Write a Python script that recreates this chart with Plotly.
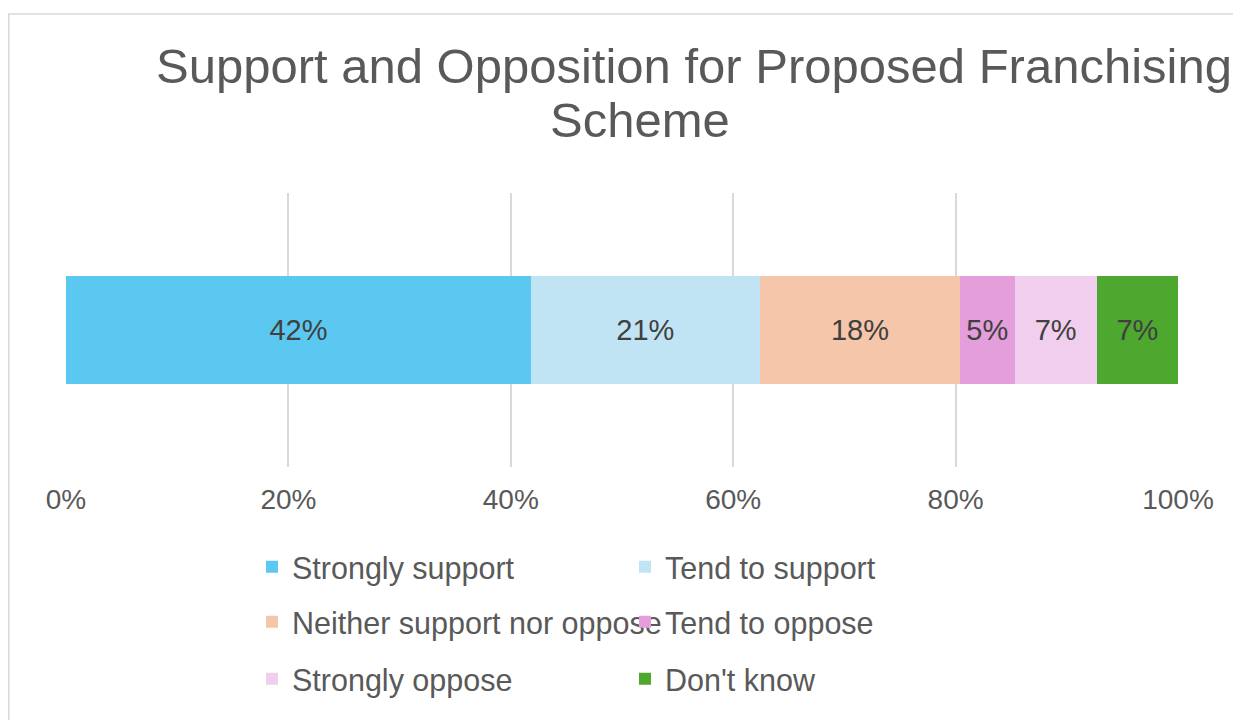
import plotly.graph_objects as go

# ---- data ----
categories = ["Strongly support", "Tend to support", "Neither support nor oppose",
              "Tend to oppose", "Strongly oppose", "Don't know"]
values = [41.8, 20.6, 18.0, 4.9, 7.4, 7.3]
colors = ["#5BC8F1", "#C0E4F4", "#F6C6AB", "#E39EDB", "#F1CEEE", "#4EA72E"]
tick_vals = [0, 20, 40, 60, 80, 100]
tick_text = ["0%", "20%", "40%", "60%", "80%", "100%"]
title_line1 = "Support and Opposition for Proposed Franchising"
title_line2 = "Scheme"

FONT = "Liberation Sans, Arial, Helvetica, sans-serif"
OFF = 8  # page body margin
W, H = 1241 - OFF, 720 - OFF
L = 66 - OFF
R = W - (1178 - OFF)
T = 193 - OFF
B = H - (467 - OFF)
PW, PH = W - L - R, H - T - B


def xpaper(xpage):
    return (xpage - OFF - L) / PW


def ypaper(ypage):
    return (H - B - (ypage - OFF)) / PH


legend_names = ["legend", "legend", "legend2", "legend2", "legend3", "legend3"]

fig = go.Figure()
for name, v, c, lg in zip(categories, values, colors, legend_names):
    fig.add_trace(go.Bar(
        y=["All"], x=[v], name=name, orientation="h",
        marker=dict(color=c, line=dict(width=0)),
        text=[f"{v:.0f}%"], textposition="inside", insidetextanchor="middle",
        textfont=dict(family=FONT, size=29, color="#404040"),
        legend=lg, hoverinfo="name+x",
    ))

leg_common = dict(orientation="h", xanchor="left", yanchor="middle",
                  entrywidth=328, entrywidthmode="pixels",
                  font=dict(family=FONT, size=30.5, color="#595959"),
                  bgcolor="rgba(0,0,0,0)", traceorder="normal")

fig.update_layout(
    width=W, height=H,
    margin=dict(l=L, r=R, t=T, b=B),
    paper_bgcolor="white", plot_bgcolor="white",
    barmode="stack", bargap=0.606,
    showlegend=True,
    legend=dict(x=xpaper(252), y=ypaper(567), **leg_common),
    legend2=dict(x=xpaper(252), y=ypaper(622), **leg_common),
    legend3=dict(x=xpaper(252), y=ypaper(679), **leg_common),
    xaxis=dict(range=[0, 100], tickvals=tick_vals, ticktext=tick_text,
               showgrid=True, gridcolor="#D9D9D9", gridwidth=1.5,
               zeroline=False, showline=False, ticks="",
               ticklabelstandoff=13,
               tickfont=dict(family=FONT, size=28, color="#595959"),
               fixedrange=True),
    yaxis=dict(showticklabels=False, showgrid=False, zeroline=False,
               showline=False, ticks="", fixedrange=True),
    font=dict(family=FONT, color="#595959"),
    annotations=[
        dict(text=title_line1, xref="paper", yref="paper",
             x=xpaper(694), y=ypaper(66), xanchor="center", yanchor="middle",
             showarrow=False, font=dict(family=FONT, size=49, color="#595959")),
        dict(text=title_line2, xref="paper", yref="paper",
             x=xpaper(640), y=ypaper(120), xanchor="center", yanchor="middle",
             showarrow=False, font=dict(family=FONT, size=49, color="#595959")),
    ],
    shapes=[
        dict(type="rect", xref="paper", yref="paper",
             x0=xpaper(8.75), x1=xpaper(1300), y0=ypaper(760), y1=ypaper(14),
             line=dict(color="#D9D9D9", width=1.5), fillcolor="rgba(0,0,0,0)",
             layer="below"),
    ],
)

fig.write_html("out.html")
